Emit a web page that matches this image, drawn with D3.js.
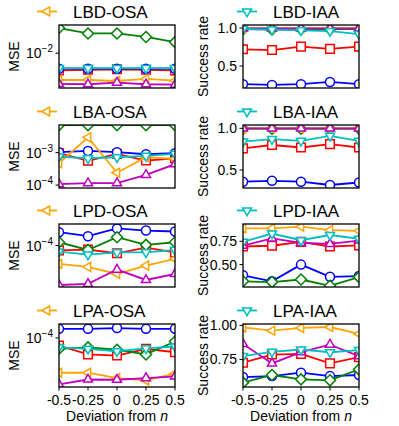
<!DOCTYPE html>
<html>
<head>
<meta charset="utf-8">
<script src="https://cdn.jsdelivr.net/npm/d3@7"></script>
<style>
  body { margin: 0; background: #fff; }
  text { font-family: "Liberation Sans", Arial, sans-serif; fill: #000; }
</style>
</head>
<body>
<script>
// x values shared by every panel
const deviations = [-0.5, -0.25, 0, 0.25, 0.5];
const xTicks = ["-0.5", "-0.25", "0", "0.25", "0.5"];

// series drawn in this order: red, blue, green, orange, magenta, cyan
const seriesNames = ["red", "blue", "green", "orange", "magenta", "cyan"];

// MSE panels (left column)
const mseLBD = [
  [0.0062, 0.0063, 0.0064, 0.0063, 0.0062],
  [0.0065, 0.0065, 0.0065, 0.0065, 0.0065],
  [0.0201, 0.0173, 0.0173, 0.0157, 0.0136],
  [0.00475, 0.00475, 0.00462, 0.00489, 0.00466],
  [0.00426, 0.00422, 0.00442, 0.00422, 0.00418],
  [0.0066, 0.0066, 0.0066, 0.0066, 0.0066]
];
const mseLBA = [
  [9.6e-4, 5.6e-4, 9.1e-4, 5.7e-4, 6.7e-4],
  [1.03e-3, 1.13e-3, 1.03e-3, 0.89e-3, 0.96e-3],
  [7.0e-3, 7.0e-3, 7.0e-3, 7.0e-3, 7.0e-3],
  [4.7e-4, 2.95e-3, 2.4e-4, 7.2e-4, 6.4e-4],
  [1.07e-4, 1.15e-4, 1.15e-4, 2.06e-4, 4.4e-4],
  [7.5e-4, 6.7e-4, 7.2e-4, 7.9e-4, 9.1e-4]
];
const mseLPD = [
  [8.7e-5, 8.9e-5, 8.0e-5, 9.4e-5, 8.2e-5],
  [1.47e-4, 1.31e-4, 1.64e-4, 1.54e-4, 1.50e-4],
  [1.10e-4, 8.8e-5, 1.27e-4, 1.02e-4, 1.10e-4],
  [5.9e-5, 5.4e-5, 4.4e-5, 5.6e-5, 6.8e-5],
  [3.2e-5, 3.3e-5, 5.0e-5, 3.7e-5, 4.4e-5],
  [8.4e-5, 7.7e-5, 8.2e-5, 8.2e-5, 8.8e-5]
];
const mseLPA = [
  [8.0e-5, 6.2e-5, 6.0e-5, 7.3e-5, 6.6e-5],
  [1.30e-4, 1.30e-4, 1.33e-4, 1.30e-4, 1.30e-4],
  [7.3e-5, 7.6e-5, 7.1e-5, 6.2e-5, 9.0e-5],
  [3.65e-5, 3.65e-5, 3.13e-5, 2.92e-5, 3.55e-5],
  [2.6e-5, 3.0e-5, 2.98e-5, 3.13e-5, 3.28e-5],
  [7.6e-5, 7.3e-5, 6.8e-5, 7.4e-5, 7.8e-5]
];

// success rate panels (right column)
const srLBD = [
  [0.72, 0.71, 0.755, 0.725, 0.755],
  [0.26, 0.25, 0.26, 0.29, 0.26],
  [0.985, 0.98, 0.985, 0.985, 0.985],
  [1.0, 1.0, 1.0, 1.0, 1.0],
  [0.995, 0.995, 0.995, 0.995, 0.995],
  [0.99, 0.98, 0.97, 0.96, 0.92]
];
const srLBA = [
  [0.76, 0.80, 0.77, 0.81, 0.77],
  [0.36, 0.37, 0.36, 0.32, 0.35],
  [0.995, 0.995, 0.995, 0.995, 0.995],
  [1.0, 1.0, 1.0, 1.0, 1.0],
  [1.0, 1.0, 1.0, 1.0, 1.0],
  [0.84, 0.87, 0.85, 0.91, 0.85]
];
const srLPD = [
  [0.694, 0.702, 0.743, 0.694, 0.705],
  [0.385, 0.321, 0.50, 0.369, 0.377],
  [0.321, 0.313, 0.34, 0.273, 0.366],
  [0.889, 0.889, 0.907, 0.87, 0.862],
  [0.702, 0.78, 0.732, 0.721, 0.758],
  [0.743, 0.833, 0.761, 0.817, 0.777]
];
const srLPA = [
  [0.726, 0.786, 0.791, 0.721, 0.767],
  [0.621, 0.628, 0.653, 0.628, 0.636],
  [0.58, 0.636, 0.604, 0.597, 0.677],
  [0.985, 0.961, 0.981, 0.988, 0.937],
  [0.864, 0.721, 0.803, 0.859, 0.774],
  [0.774, 0.806, 0.823, 0.803, 0.818]
];

const colors = {
  red: "#ff0000", blue: "#0000ff", green: "#008000",
  orange: "#ffa500", magenta: "#bf00bf", cyan: "#00bfbf"
};
const shapes = {
  red: "square", blue: "circle", green: "diamond",
  orange: "left", magenta: "up", cyan: "down"
};

// marker paths centred on 0,0
const markerPath = (shape) => {
  const p = d3.path();
  if (shape === "circle") {
    p.arc(0, 0, 4.5, 0, 2 * Math.PI);
  } else if (shape === "square") {
    p.rect(-4.3, -4.3, 8.6, 8.6);
  } else if (shape === "diamond") {
    p.moveTo(0, -5.5); p.lineTo(5.5, 0); p.lineTo(0, 5.5); p.lineTo(-5.5, 0); p.closePath();
  } else {
    const r = 5.2;
    const rot = { up: 0, down: 180, left: -90 }[shape] * Math.PI / 180;
    for (let k = 0; k < 3; k++) {
      const a = rot - Math.PI / 2 + k * 2 * Math.PI / 3;
      const px = Math.cos(a) * r, py = Math.sin(a) * r;
      if (k === 0) p.moveTo(px, py); else p.lineTo(px, py);
    }
    p.closePath();
  }
  return p.toString();
};

const width = 399, height = 426;
const panelH = 63;
const rowTops = [25, 125, 224, 324];
const cols = [{ x0: 59, x1: 175 }, { x0: 243, x1: 359 }];

const panels = [
  { row: 0, col: 0, data: mseLBD, log: true, domain: [Math.pow(10, -2.42), Math.pow(10, -1.66)], ticks: [-2], title: "LBD-OSA" },
  { row: 0, col: 1, data: srLBD, log: false, domain: [0.21, 1.04], ticks: [0.5, 1.0], fmt: ".1f", title: "LBD-IAA" },
  { row: 1, col: 0, data: mseLBA, log: true, domain: [Math.pow(10, -4.09), Math.pow(10, -2.15)], ticks: [-4, -3], title: "LBA-OSA" },
  { row: 1, col: 1, data: srLBA, log: false, domain: [0.284, 1.04], ticks: [0.5, 1.0], fmt: ".1f", title: "LBA-IAA" },
  { row: 2, col: 0, data: mseLPD, log: true, domain: [Math.pow(10, -4.52), Math.pow(10, -3.73)], ticks: [-4], title: "LPD-OSA" },
  { row: 2, col: 1, data: srLPD, log: false, domain: [0.26, 0.935], ticks: [0.5, 0.75], fmt: ".2f", title: "LPD-IAA" },
  { row: 3, col: 0, data: mseLPA, log: true, domain: [Math.pow(10, -4.617), Math.pow(10, -3.825)], ticks: [-4], title: "LPA-OSA" },
  { row: 3, col: 1, data: srLPA, log: false, domain: [0.548, 1.01], ticks: [0.75, 1.0], fmt: ".2f", title: "LPA-IAA" }
];

const svg = d3.select("body").append("svg")
  .attr("width", width)
  .attr("height", height);

const defs = svg.append("defs");

panels.forEach((pn, idx) => {
  const top = rowTops[pn.row];
  const c = cols[pn.col];
  const x = d3.scaleLinear().domain([-0.5, 0.5]).range([c.x0, c.x1]);
  const y = (pn.log ? d3.scaleLog() : d3.scaleLinear()).domain(pn.domain).range([top + panelH, top]);

  defs.append("clipPath").attr("id", "clip" + idx)
    .append("rect").attr("x", c.x0).attr("y", top).attr("width", c.x1 - c.x0).attr("height", panelH);

  const g = svg.append("g");

  // series
  const plot = g.append("g").attr("clip-path", `url(#clip${idx})`);
  const line = d3.line().x((d, i) => x(deviations[i])).y((d) => y(d));
  pn.data.forEach((vals, s) => {
    const name = seriesNames[s];
    const sg = plot.append("g");
    sg.append("path")
      .attr("d", line(vals))
      .attr("fill", "none")
      .attr("stroke", colors[name])
      .attr("stroke-width", 1.8);
    sg.selectAll("path.mk").data(vals).enter().append("path")
      .attr("class", "mk")
      .attr("d", markerPath(shapes[name]))
      .attr("transform", (d, i) => `translate(${x(deviations[i])},${y(d)})`)
      .attr("fill", "#fff")
      .attr("stroke", colors[name])
      .attr("stroke-width", 1.5);
  });

  // frame
  g.append("rect")
    .attr("x", c.x0).attr("y", top)
    .attr("width", c.x1 - c.x0).attr("height", panelH)
    .attr("fill", "none").attr("stroke", "#000").attr("stroke-width", 1.3);

  // y ticks
  pn.ticks.forEach((t) => {
    const v = pn.log ? Math.pow(10, t) : t;
    const ty = y(v);
    g.append("line")
      .attr("x1", c.x0 - 3.5).attr("x2", c.x0)
      .attr("y1", ty).attr("y2", ty)
      .attr("stroke", "#000").attr("stroke-width", 1);
    const lbl = g.append("text")
      .attr("x", c.x0 - 6)
      .attr("y", ty + 5)
      .attr("text-anchor", "end")
      .attr("font-size", 14);
    if (pn.log) {
      lbl.append("tspan").text("10");
      lbl.append("tspan").attr("dy", -6).attr("font-size", 10).text("\u2212" + Math.abs(t));
    } else {
      lbl.text(d3.format(pn.fmt)(t));
    }
  });

  // y label
  const ylx = pn.col === 0 ? 19 : 208;
  g.append("text")
    .attr("transform", `translate(${ylx},${top + panelH / 2}) rotate(-90)`)
    .attr("text-anchor", "middle")
    .attr("font-size", 14)
    .text(pn.col === 0 ? "MSE" : "Success rate");

  // legend
  const ly = top - 13.5;
  const lx = pn.col === 0 ? 37 : 237;
  const lname = pn.col === 0 ? "orange" : "cyan";
  g.append("line")
    .attr("x1", lx).attr("x2", lx + 20)
    .attr("y1", ly).attr("y2", ly)
    .attr("stroke", colors[lname]).attr("stroke-width", 1.8);
  g.append("path")
    .attr("d", markerPath(shapes[lname]))
    .attr("transform", `translate(${lx + 10},${ly})`)
    .attr("fill", "#fff")
    .attr("stroke", colors[lname])
    .attr("stroke-width", 1.5);
  g.append("text")
    .attr("x", lx + 36)
    .attr("y", ly + 6)
    .attr("font-size", 17)
    .text(pn.title);

  // x axis on bottom row
  if (pn.row === 3) {
    deviations.forEach((d, i) => {
      g.append("line")
        .attr("x1", x(d)).attr("x2", x(d))
        .attr("y1", top + panelH).attr("y2", top + panelH + 3.5)
        .attr("stroke", "#000").attr("stroke-width", 1);
      g.append("text")
        .attr("x", x(d))
        .attr("y", top + panelH + 18)
        .attr("text-anchor", "middle")
        .attr("font-size", 14)
        .text(xTicks[i]);
    });
    const xl = g.append("text")
      .attr("x", (c.x0 + c.x1) / 2)
      .attr("y", top + panelH + 34)
      .attr("text-anchor", "middle")
      .attr("font-size", 14);
    xl.append("tspan").text("Deviation from ");
    xl.append("tspan").attr("font-style", "italic").text("n");
  }
});
</script>
</body>
</html>
